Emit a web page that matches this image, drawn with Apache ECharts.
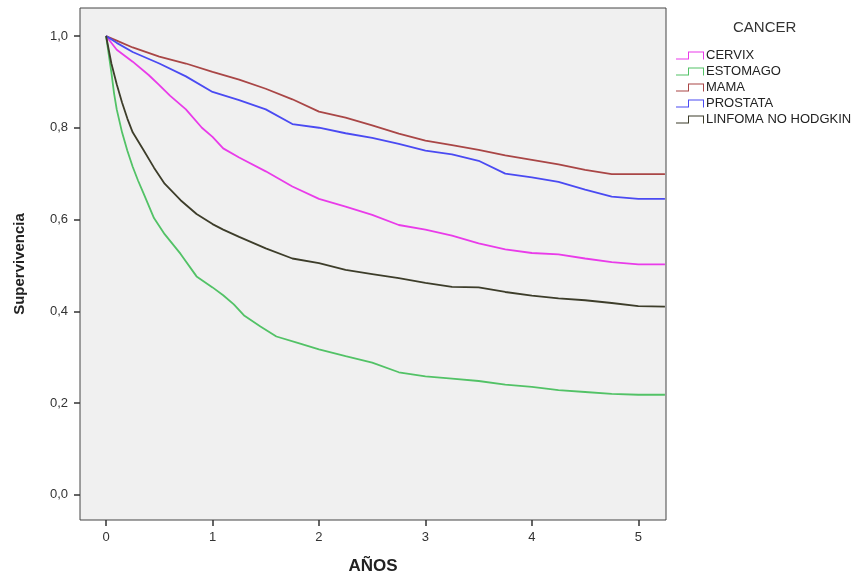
<!DOCTYPE html>
<html>
<head>
<meta charset="utf-8">
<script src="https://cdn.jsdelivr.net/npm/echarts@6/dist/echarts.min.js"></script>
<style>html,body{margin:0;padding:0;background:#fff}#c{width:866px;height:580px}</style>
</head>
<body>
<div id="c"></div>
<script>
const xTicks = [0, 1, 2, 3, 4, 5];
const yTicks = [0, 0.2, 0.4, 0.6, 0.8, 1.0];
const seriesNames = ['CERVIX', 'ESTOMAGO', 'MAMA', 'PROSTATA', 'LINFOMA NO HODGKIN'];

const cervix = [[0,1.0],[0.1,0.97],[0.25,0.944],[0.4,0.915],[0.5,0.893],[0.6,0.87],[0.75,0.84],[0.9,0.80],[1.0,0.78],[1.1,0.755],[1.25,0.735],[1.5,0.705],[1.75,0.672],[2.0,0.645],[2.25,0.628],[2.5,0.61],[2.75,0.588],[3.0,0.578],[3.25,0.565],[3.5,0.548],[3.75,0.535],[4.0,0.527],[4.25,0.524],[4.5,0.515],[4.75,0.507],[5.0,0.502],[5.25,0.502]];
const estomago = [[0,1.0],[0.025,0.96],[0.05,0.92],[0.075,0.875],[0.1,0.84],[0.15,0.79],[0.2,0.75],[0.25,0.715],[0.3,0.685],[0.35,0.658],[0.45,0.603],[0.55,0.568],[0.7,0.525],[0.85,0.476],[1.0,0.452],[1.1,0.435],[1.2,0.415],[1.3,0.39],[1.45,0.367],[1.6,0.345],[1.8,0.331],[2.0,0.317],[2.25,0.302],[2.5,0.288],[2.75,0.267],[3.0,0.258],[3.25,0.253],[3.5,0.248],[3.75,0.24],[4.0,0.235],[4.25,0.228],[4.5,0.224],[4.75,0.22],[5.0,0.218],[5.25,0.218]];
const mama = [[0,1.0],[0.1,0.99],[0.25,0.975],[0.5,0.955],[0.75,0.94],[1.0,0.922],[1.25,0.905],[1.5,0.885],[1.75,0.862],[2.0,0.835],[2.25,0.822],[2.5,0.805],[2.75,0.787],[3.0,0.772],[3.25,0.762],[3.5,0.752],[3.75,0.74],[4.0,0.73],[4.25,0.72],[4.5,0.708],[4.75,0.699],[5.0,0.699],[5.25,0.699]];
const prostata = [[0,1.0],[0.1,0.985],[0.25,0.965],[0.5,0.94],[0.75,0.912],[1.0,0.878],[1.25,0.86],[1.5,0.84],[1.75,0.808],[2.0,0.80],[2.25,0.788],[2.5,0.778],[2.75,0.765],[3.0,0.75],[3.25,0.742],[3.5,0.728],[3.75,0.70],[4.0,0.692],[4.25,0.682],[4.5,0.665],[4.75,0.65],[5.0,0.645],[5.25,0.645]];
const linfoma = [[0,1.0],[0.05,0.94],[0.1,0.895],[0.15,0.855],[0.2,0.82],[0.25,0.79],[0.35,0.752],[0.45,0.713],[0.55,0.678],[0.7,0.642],[0.85,0.612],[1.0,0.59],[1.1,0.578],[1.25,0.562],[1.5,0.537],[1.75,0.515],[2.0,0.505],[2.25,0.49],[2.5,0.481],[2.75,0.472],[3.0,0.462],[3.25,0.453],[3.5,0.452],[3.75,0.442],[4.0,0.434],[4.25,0.428],[4.5,0.424],[4.75,0.418],[5.0,0.411],[5.25,0.41]];

const allData = [cervix, estomago, mama, prostata, linfoma];
const colors = ['#e93be9', '#52c266', '#a94646', '#4a4af2', '#3d3d2a'];
const FONT = "'Liberation Sans', Arial, sans-serif";
const stepIcon = 'path://M0,7 L12,7 L12,0 L28,0 L28,8 L27,8 L27,1 L13,1 L13,8 L0,8 Z';

const chart = echarts.init(document.getElementById('c'));
chart.setOption({
  animation: false,
  backgroundColor: '#ffffff',
  textStyle: { fontFamily: FONT },
  title: {
    text: 'CANCER', left: 728, top: 15,
    textStyle: { fontFamily: FONT, fontSize: 15, fontWeight: 'normal', color: '#333' }
  },
  legend: {
    orient: 'vertical', left: 671, top: 44, itemGap: 3,
    itemWidth: 28, itemHeight: 8,
    icon: stepIcon,
    textStyle: { fontFamily: FONT, fontSize: 13, color: '#222', padding: [0, 0, 0, -3] },
    data: seriesNames.map((n, i) => ({ name: n, itemStyle: { color: colors[i] } }))
  },
  grid: {
    left: 80, top: 8, right: 200, bottom: 60,
    show: true, backgroundColor: '#f0f0f0', borderColor: '#444', borderWidth: 1
  },
  xAxis: {
    type: 'value', min: -0.245, max: 5.26,
    name: 'AÑOS', nameLocation: 'middle', nameGap: 38,
    nameTextStyle: { fontFamily: FONT, fontSize: 17, fontWeight: 'bold', color: '#222' },
    axisLine: { show: false, onZero: false },
    splitLine: { show: false },
    axisTick: { show: true, inside: false, customValues: xTicks, length: 6, lineStyle: { color: '#333', width: 1.5 } },
    axisLabel: { customValues: xTicks, fontFamily: FONT, fontSize: 13, color: '#333', margin: 11,
      formatter: v => String(v) }
  },
  yAxis: {
    type: 'value', min: -0.055, max: 1.061,
    name: 'Supervivencia', nameLocation: 'middle', nameGap: 53, nameRotate: 90,
    nameTextStyle: { fontFamily: FONT, fontSize: 15, fontWeight: 'bold', color: '#222' },
    axisLine: { show: false, onZero: false },
    splitLine: { show: false },
    axisTick: { show: true, inside: false, customValues: yTicks, length: 6, lineStyle: { color: '#333', width: 1.5 } },
    axisLabel: { customValues: yTicks, fontFamily: FONT, fontSize: 13, color: '#333', margin: 12,
      formatter: v => v.toFixed(1).replace('.', ',') }
  },
  series: seriesNames.map((n, i) => ({
    name: n, type: 'line', data: allData[i], showSymbol: false, symbol: 'none',
    lineStyle: { color: colors[i], width: 1.8 }, itemStyle: { color: colors[i] }
  }))
});
</script>
</body>
</html>
